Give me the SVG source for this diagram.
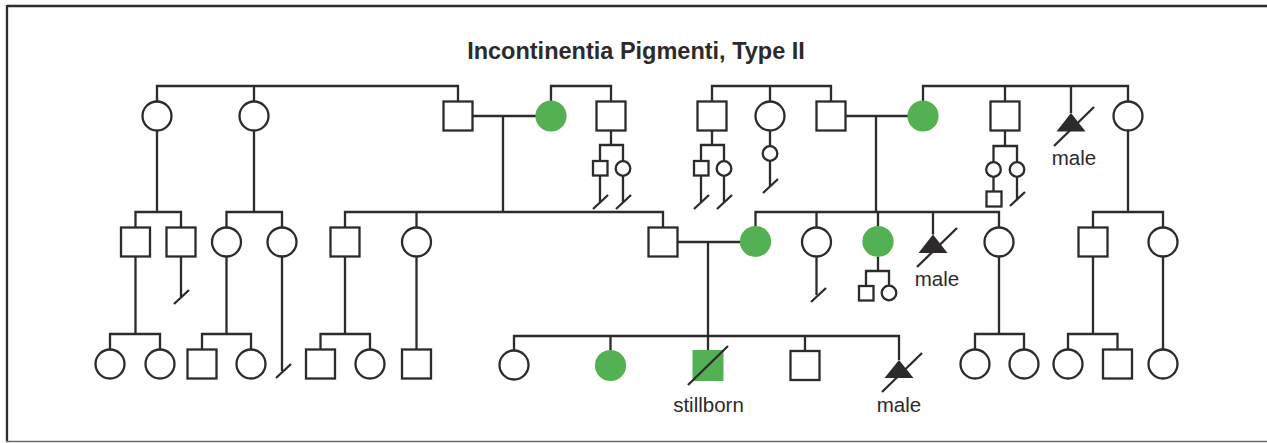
<svg xmlns="http://www.w3.org/2000/svg" width="1267" height="443" viewBox="0 0 1267 443">
<style>
.ln{fill:none;stroke:#2d2a2b;stroke-width:2.3;stroke-linecap:butt}
.op{fill:#fff;stroke:#2d2a2b;stroke-width:2.3}
.gr{fill:#53b153;stroke:none}
.tri{fill:#2d2a2b;stroke:none}
.sl{stroke:#2d2a2b;stroke-width:2.3;fill:none}
.lbl{font-family:"Liberation Sans",Arial,sans-serif;font-size:20.5px;fill:#2d2a2b;text-anchor:middle}
.ttl{font-family:"Liberation Sans",Arial,sans-serif;font-size:23.5px;font-weight:bold;fill:#2d2a2b;text-anchor:middle}
</style>
<rect width="1267" height="443" fill="#fff"/>
<g id="frame">
<line x1="7" y1="6" x2="1267" y2="6" stroke="#2d2a2b" stroke-width="2.3"/>
<line x1="7" y1="5" x2="7" y2="442" stroke="#2d2a2b" stroke-width="2.3"/>
<line x1="6" y1="441.5" x2="1267" y2="441.5" stroke="#6a6a6a" stroke-width="1.6"/>
</g>
<text id="title" class="ttl" x="636" y="59">Incontinentia Pigmenti, Type II</text>
<g id="connectors" class="ln">
<path d="M157,101V86H458V101M254,86V101"/>
<path d="M551,101V86H611V101"/>
<path d="M712,101V86H831V101M770,86V101"/>
<path d="M923,101V86H1128V101M1005,86V101M1071,86V113"/>
<path d="M473,116H536M503,116V212"/>
<path d="M846,116H908M876,116V212"/>
<path d="M345,227V212H663V227M416.5,212V227"/>
<path d="M755.5,227V212H999V227M816.5,212V227M878,212V227M933,212V234.5"/>
<path d="M157,131V212M135.5,227V212H181V227"/>
<path d="M254,131V212M226.5,227V212H282V227"/>
<path d="M1128,131V212M1093,227V212H1163V227"/>
<path d="M611,131V145M600,161V145H623V161M600,176V202M623,176V202"/>
<path d="M712,131V145M701,161V145H724V161M701,176V202M724,176V202"/>
<path d="M770,131V146M770,161V186"/>
<path d="M1005,131V146M993.5,162V146H1017V162M993.5,177V191M1017,177V199"/>
<path d="M678,242H740M708,242V336"/>
<path d="M514,350V336H899V360M610.5,336V350M805,336V350M708,336V350"/>
<path d="M878,257V271M866,285.5V271H889V285.5"/>
<path d="M816.5,257V295"/>
<path d="M999,257V334M975,349V334H1024V349"/>
<path d="M1093,257V334M1068,349V334H1117.5V349"/>
<path d="M1163,257V349"/>
<path d="M135.5,257V334M110,349V334H160V349"/>
<path d="M181,257V297"/>
<path d="M226.5,257V334M202,349V334H251V349"/>
<path d="M282,257V371"/>
<path d="M345,257V334M320.5,349V334H370V349"/>
<path d="M416.5,257V349"/>
<path d="M593,209L608,195M616,209L631,195M694,209L709,195M717,209L732,195M763,193L778,179M1010,206L1025,192M174,304L189,290M276,378L291,364M811,302L826,288"/>
</g>
<g id="I-1"><circle class="op" cx="157" cy="116" r="14.5"/></g>
<g id="I-2"><circle class="op" cx="254" cy="116" r="14.5"/></g>
<g id="I-3"><rect class="op" x="443.5" y="101.5" width="29" height="29"/></g>
<g id="I-4"><circle class="gr" cx="551" cy="116" r="15.6"/></g>
<g id="I-5"><rect class="op" x="596.5" y="101.5" width="29" height="29"/></g>
<g id="I-6"><rect class="op" x="697.5" y="101.5" width="29" height="29"/></g>
<g id="I-7"><circle class="op" cx="770" cy="116" r="14.5"/></g>
<g id="I-8"><rect class="op" x="816.5" y="101.5" width="29" height="29"/></g>
<g id="I-9"><circle class="gr" cx="923" cy="116" r="15.6"/></g>
<g id="I-10"><rect class="op" x="990.5" y="101.5" width="29" height="29"/></g>
<g id="I-11"><path class="tri" d="M1071,113L1085.5,131.5H1056.5Z"/><line class="sl" x1="1054" y1="146" x2="1094" y2="107"/><text class="lbl" x="1074" y="165">male</text></g>
<g id="I-12"><circle class="op" cx="1128" cy="116" r="14.5"/></g>
<g id="s-1"><rect class="op" x="593" y="161" width="14.5" height="14.5"/></g>
<g id="s-2"><circle class="op" cx="623" cy="168.5" r="7.3"/></g>
<g id="s-3"><rect class="op" x="694" y="161" width="14.5" height="14.5"/></g>
<g id="s-4"><circle class="op" cx="724" cy="168.5" r="7.3"/></g>
<g id="s-5"><circle class="op" cx="770" cy="153.5" r="7.3"/></g>
<g id="s-6"><circle class="op" cx="993.5" cy="169.5" r="7.3"/></g>
<g id="s-7"><circle class="op" cx="1017" cy="169.5" r="7.3"/></g>
<g id="s-8"><rect class="op" x="986.5" y="191.5" width="15" height="15"/></g>
<g id="II-1"><rect class="op" x="121" y="227.5" width="29" height="29"/></g>
<g id="II-2"><rect class="op" x="166.5" y="227.5" width="29" height="29"/></g>
<g id="II-3"><circle class="op" cx="226.5" cy="242" r="14.5"/></g>
<g id="II-4"><circle class="op" cx="282" cy="242" r="14.5"/></g>
<g id="II-5"><rect class="op" x="330.5" y="227.5" width="29" height="29"/></g>
<g id="II-6"><circle class="op" cx="416.5" cy="242" r="14.5"/></g>
<g id="II-7"><rect class="op" x="648.5" y="227.5" width="29" height="29"/></g>
<g id="II-8"><circle class="gr" cx="755.5" cy="241.5" r="15.6"/></g>
<g id="II-9"><circle class="op" cx="816.5" cy="242" r="14.5"/></g>
<g id="II-10"><circle class="gr" cx="878" cy="241.5" r="15.6"/></g>
<g id="II-11"><path class="tri" d="M933,234.5L947.5,253H918.5Z"/><line class="sl" x1="917" y1="267" x2="957" y2="228"/><text class="lbl" x="937" y="286">male</text></g>
<g id="II-12"><circle class="op" cx="999" cy="242" r="14.5"/></g>
<g id="II-13"><rect class="op" x="1078.5" y="227.5" width="29" height="29"/></g>
<g id="II-14"><circle class="op" cx="1163" cy="242" r="14.5"/></g>
<g id="j-1"><rect class="op" x="859" y="286" width="14.5" height="14.5"/></g>
<g id="j-2"><circle class="op" cx="889" cy="293" r="7.3"/></g>
<g id="III-1"><circle class="op" cx="110" cy="364" r="14.5"/></g>
<g id="III-2"><circle class="op" cx="160" cy="364" r="14.5"/></g>
<g id="III-3"><rect class="op" x="187.5" y="349.5" width="29" height="29"/></g>
<g id="III-4"><circle class="op" cx="251" cy="364" r="14.5"/></g>
<g id="III-5"><rect class="op" x="306" y="349.5" width="29" height="29"/></g>
<g id="III-6"><circle class="op" cx="370" cy="364" r="14.5"/></g>
<g id="III-7"><rect class="op" x="402" y="349.5" width="29" height="29"/></g>
<g id="III-8"><circle class="op" cx="514" cy="365" r="14.5"/></g>
<g id="III-9"><circle class="gr" cx="610.5" cy="365.5" r="15.6"/></g>
<g id="III-10"><rect class="gr" x="692.5" y="350" width="31" height="31"/><line class="sl" x1="688" y1="385" x2="728" y2="346"/><text class="lbl" x="708.5" y="411.5">stillborn</text></g>
<g id="III-11"><rect class="op" x="790.5" y="351" width="29" height="29"/></g>
<g id="III-12"><path class="tri" d="M899,360L913.5,378H884.5Z"/><line class="sl" x1="882" y1="392" x2="922" y2="353"/><text class="lbl" x="899" y="411.5">male</text></g>
<g id="III-13"><circle class="op" cx="975" cy="364" r="14.5"/></g>
<g id="III-14"><circle class="op" cx="1024" cy="364" r="14.5"/></g>
<g id="III-15"><circle class="op" cx="1068" cy="364" r="14.5"/></g>
<g id="III-16"><rect class="op" x="1103" y="349.5" width="29" height="29"/></g>
<g id="III-17"><circle class="op" cx="1163" cy="364" r="14.5"/></g>
</svg>
